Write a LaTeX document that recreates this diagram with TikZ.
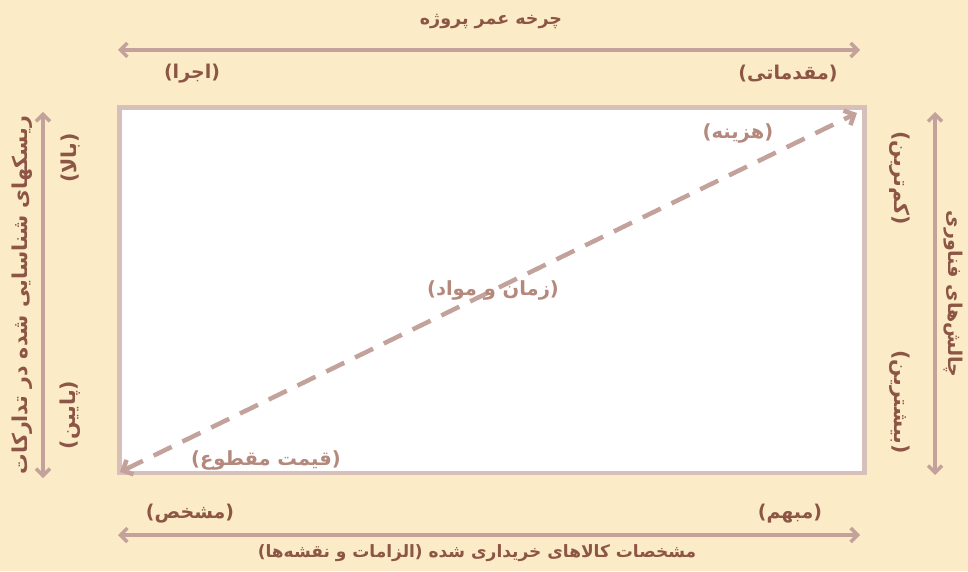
\documentclass[tikz,border=0pt]{standalone}
\usepackage{fontspec}
\usetikzlibrary{arrows.meta}
\TeXXeTstate=1
\newfontfamily\arabicfont[Script=Arabic]{DejaVu Sans}
\definecolor{bgc}{HTML}{FBEBC6}
\definecolor{txtc}{HTML}{8C5545}
\definecolor{intc}{HTML}{B4887C}
\definecolor{arrc}{HTML}{C4A29C}
\definecolor{rectc}{HTML}{D8C0BA}
\newcommand{\fsz}[1]{\fontsize{#1}{#1}\selectfont}
\tikzset{
  lbl/.style={text=txtc, font=\arabicfont\bfseries\fsz{19}, inner sep=0pt},
  ilbl/.style={text=intc, font=\arabicfont\bfseries\fsz{19.5}, inner sep=0pt},
  axis/.style={draw=arrc, line width=3.5pt, {Straight Barb[length=7pt,width=14pt]}-{Straight Barb[length=7pt,width=14pt]}},
  diag/.style={draw=arrc, line width=4.5pt, dash pattern=on 20pt off 12pt, {Straight Barb[length=8pt,width=16pt]}-{Straight Barb[length=8pt,width=16pt]}}
}
\begin{document}
\begin{tikzpicture}[x=1pt,y=1pt]
\fill[bgc] (0,0) rectangle (968,571);
\useasboundingbox (0,0) rectangle (968,571);
% main rectangle
\node[draw=rectc, line width=4.5pt, fill=white, minimum width=745pt, minimum height=365pt, inner sep=0pt, anchor=south west] (box) at (117,96) {};
% top axis
\coordinate (tl) at (118,521);
\coordinate (tr) at (860,521);
\draw[axis] (tl) -- (tr);
\node[lbl, font=\arabicfont\bfseries\fsz{17.5}] (ttitle) at (491,549) {\beginR چرخه عمر پروژه\endR};
\node[lbl] (tleft) at (192,497) {\beginR (اجرا)\endR};
\node[lbl] (tright) at (788,497) {\beginR (مقدماتی)\endR};
% bottom axis
\coordinate (bl) at (118,36);
\coordinate (br) at (860,36);
\draw[axis] (bl) -- (br);
\node[lbl, font=\arabicfont\bfseries\fsz{17}] (btitle) at (477,18) {\beginR مشخصات کالاهای خریداری شده (الزامات و نقشه‌ها)\endR};
\node[lbl] (bleft) at (190,57) {\beginR (مشخص)\endR};
\node[lbl] (bright) at (790,57) {\beginR (مبهم)\endR};
% left axis
\coordinate (lt) at (43,459);
\coordinate (lb) at (43,93);
\draw[axis] (lt) -- (lb);
\node[lbl, rotate=90, font=\arabicfont\bfseries\fsz{20.5}] (ltitle) at (22,276) {\beginR ریسکهای شناسایی شده در تدارکات\endR};
\node[lbl, rotate=90, font=\arabicfont\bfseries\fsz{20.5}] (ltop) at (70,413) {\beginR (بالا)\endR};
\node[lbl, rotate=90, font=\arabicfont\bfseries\fsz{20.5}] (lbot) at (70,156) {\beginR (پایین)\endR};
% right axis
\coordinate (rt) at (935,459);
\coordinate (rb) at (935,96);
\draw[axis] (rt) -- (rb);
\node[lbl, rotate=-90, font=\arabicfont\bfseries\fsz{19}] (rtitle) at (953,277) {\beginR چالش‌های فناوری\endR};
\node[lbl, rotate=-90, font=\arabicfont\bfseries\fsz{20.5}] (rtop) at (900,393) {\beginR (کم‌ترین)\endR};
\node[lbl, rotate=-90, font=\arabicfont\bfseries\fsz{20.5}] (rbot) at (900,169) {\beginR (بیشترین)\endR};
% diagonal
\coordinate (dlo) at (120,99);
\coordinate (dhi) at (857,458);
\draw[diag] (dlo) -- (dhi);
\node[ilbl] (cost) at (738,438) {\beginR (هزینه)\endR};
\node[ilbl] (tm) at (493,281) {\beginR (زمان و مواد)\endR};
\node[ilbl] (fixed) at (266,111) {\beginR (قیمت مقطوع)\endR};
\end{tikzpicture}
\end{document}
